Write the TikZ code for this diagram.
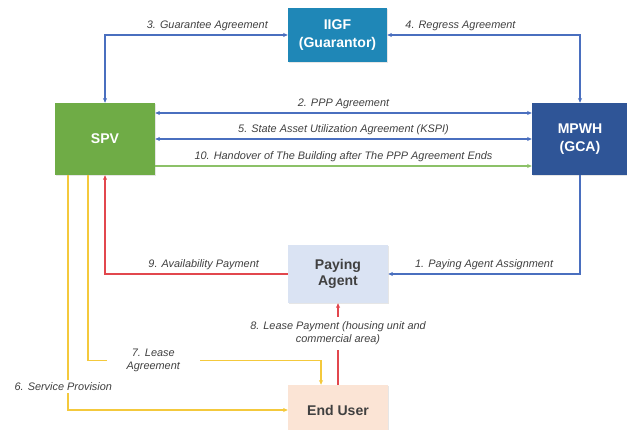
\documentclass[tikz,border=0pt]{standalone}
\usepackage{fontspec}
\setmainfont{Liberation Sans}
\usepackage{tikz}
\usetikzlibrary{arrows.meta,calc,shadows}
\usepackage{xcolor}
\definecolor{iigfblue}{HTML}{1F87B7}
\definecolor{spvgreen}{HTML}{6FAC46}
\definecolor{mpwhblue}{HTML}{2F5597}
\definecolor{payfill}{HTML}{DAE3F3}
\definecolor{userfill}{HTML}{FBE4D5}
\definecolor{linkblue}{HTML}{4A6FBF}
\definecolor{linkgreen}{HTML}{8CC168}
\definecolor{linkred}{HTML}{E2474D}
\definecolor{linkyellow}{HTML}{F4C93C}
\definecolor{txtgray}{HTML}{404040}

\begin{document}
\begin{tikzpicture}[
  x=0.03cm, y=-0.03cm,
  >={Stealth[length=4pt,width=3.5pt]},
  every node/.style={font=\fontsize{9.3}{11}\selectfont\itshape, text=txtgray},
  box/.style={minimum width=3cm, minimum height=2.16cm, align=center, inner sep=2pt,
              font=\fontsize{12}{14}\selectfont\bfseries, text=white,
              drop shadow={opacity=0.2, shadow xshift=1pt, shadow yshift=-1pt}},
  gap/.style={fill=white, align=center, inner sep=2pt},
  bluelink/.style={draw=linkblue, line width=1.1pt},
  greenlink/.style={draw=linkgreen, line width=1.1pt},
  redlink/.style={draw=linkred, line width=1.4pt},
  yellowlink/.style={draw=linkyellow, line width=1.2pt}
]
\useasboundingbox (0,0) rectangle (627,430);

\node[box, fill=iigfblue, minimum width=2.97cm, minimum height=1.62cm] (iigf) at (337.5,35) {IIGF\\[2pt](Guarantor)};
\node[box, fill=spvgreen] (spv) at (105,139) {SPV};
\node[box, fill=mpwhblue, minimum width=2.88cm] (mpwh) at (580,139) {MPWH\\[2pt](GCA)};
\node[box, fill=payfill, text=txtgray, minimum height=1.74cm] (pay) at (338,274) {Paying\\Agent};
\node[box, fill=userfill, text=txtgray, minimum height=1.5cm] (user) at (338,410) {End User};

\draw[bluelink, <->] (spv.north) |- node[pos=0.78, above]{3. Guarantee Agreement} (iigf.west);
\draw[bluelink, <->] (iigf.east) -| node[pos=0.19, above]{4. Regress Agreement} (mpwh.north);

\draw[bluelink, <->] ($(spv.east)+(0,-26)$) -- node[above]{2. PPP Agreement} ($(mpwh.west)+(0,-26)$);
\draw[bluelink, <->] (spv.east) -- node[above]{5. State Asset Utilization Agreement (KSPI)} (mpwh.west);
\draw[greenlink, ->] ($(spv.east)+(0,27)$) -- node[above]{10. Handover of The Building after The PPP Agreement Ends} ($(mpwh.west)+(0,27)$);

\draw[bluelink, ->] (mpwh.south) |- node[pos=0.75, above]{1. Paying Agent Assignment} (pay.east);
\draw[redlink, ->] (pay.west) -| node[pos=0.23, above]{9. Availability Payment} (spv.south);
\draw[redlink, ->] (user.north) -- node[pos=0.63, gap, inner ysep=4pt]{8. Lease Payment (housing unit and\\commercial area)} (pay.south);

\draw[yellowlink, ->] ($(spv.south)+(-17,0)$) |- node[pos=0.64, gap, inner xsep=17pt]{7. Lease\\Agreement} ($(user.north)+(-17,-24)$) -- ($(user.north)+(-17,0)$);
\draw[yellowlink, ->] ($(spv.south)+(-37,0)$) |- node[pos=0.45, gap, xshift=-4pt]{6. Service Provision} (user.west);
\end{tikzpicture}
\end{document}
